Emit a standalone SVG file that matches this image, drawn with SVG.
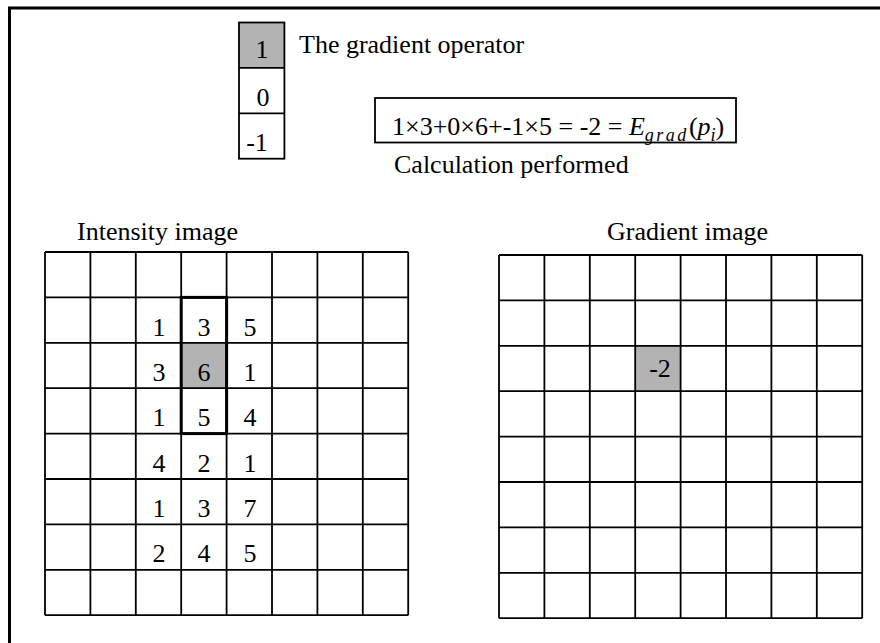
<svg xmlns="http://www.w3.org/2000/svg" width="880" height="643" viewBox="0 0 880 643">
<style>
text{font-family:"Liberation Serif","Times New Roman",serif;fill:#000}
.lbl{font-size:26px}
.num{font-size:26px;text-anchor:middle}
.grid{fill:none;stroke:#000;stroke-width:1.8}
.gray{fill:#b3b3b3}
.it{font-style:italic}
</style>
<rect width="880" height="643" fill="#fff"/>
<path d="M9.5,650 V8 H890" fill="none" stroke="#000" stroke-width="3"/>

<g id="operator">
<rect class="gray" x="239" y="22.5" width="45.4" height="45.4"/>
<rect class="grid" x="239" y="22.5" width="45.4" height="136.2"/>
<path class="grid" d="M239,67.9H284.4M239,113.3H284.4"/>
<text class="num" x="262" y="58">1</text>
<text class="num" x="263" y="106">0</text>
<text class="num" x="257" y="151">-1</text>
<text class="lbl" x="299" y="53">The gradient operator</text>
</g>

<g id="formula">
<rect class="grid" x="375" y="98" width="361" height="44.5"/>
<text class="lbl" x="392" y="135">1×3+0×6+-1×5 = -2 = <tspan class="it">E</tspan><tspan class="it" font-size="18" letter-spacing="2.5" dy="6">grad</tspan><tspan dy="-6">(</tspan><tspan class="it">p</tspan><tspan class="it" font-size="18" dy="6">i</tspan><tspan dy="-6">)</tspan></text>
<text class="lbl" x="394" y="173">Calculation performed</text>
</g>

<g id="intensity-image">
<text class="lbl" x="77" y="240">Intensity image</text>
<rect class="gray" x="181.2" y="342.8" width="45.4" height="45.4"/>
<path class="grid" d="M45,252V615.2M90.4,252V615.2M135.8,252V615.2M181.2,252V615.2M226.6,252V615.2M272,252V615.2M317.4,252V615.2M362.8,252V615.2M408.2,252V615.2M45,252H408.2M45,297.4H408.2M45,342.8H408.2M45,388.2H408.2M45,433.6H408.2M45,479H408.2M45,524.4H408.2M45,569.8H408.2M45,615.2H408.2"/>
<rect x="181.2" y="297.4" width="45.4" height="136.2" fill="none" stroke="#000" stroke-width="3"/>
<text class="num" x="159" y="336">1</text><text class="num" x="204" y="336">3</text><text class="num" x="250" y="336">5</text>
<text class="num" x="159" y="381">3</text><text class="num" x="204" y="381">6</text><text class="num" x="250" y="381">1</text>
<text class="num" x="159" y="426">1</text><text class="num" x="204" y="426">5</text><text class="num" x="250" y="426">4</text>
<text class="num" x="159" y="472">4</text><text class="num" x="204" y="472">2</text><text class="num" x="250" y="472">1</text>
<text class="num" x="159" y="517">1</text><text class="num" x="204" y="517">3</text><text class="num" x="250" y="517">7</text>
<text class="num" x="159" y="562">2</text><text class="num" x="204" y="562">4</text><text class="num" x="250" y="562">5</text>
</g>

<g id="gradient-image">
<text class="lbl" x="607" y="240">Gradient image</text>
<rect class="gray" x="635.2" y="345.8" width="45.4" height="45.4"/>
<path class="grid" d="M499,255V618.2M544.4,255V618.2M589.8,255V618.2M635.2,255V618.2M680.6,255V618.2M726,255V618.2M771.4,255V618.2M816.8,255V618.2M862.2,255V618.2M499,255H862.2M499,300.4H862.2M499,345.8H862.2M499,391.2H862.2M499,436.6H862.2M499,482H862.2M499,527.4H862.2M499,572.8H862.2M499,618.2H862.2"/>
<text class="num" x="660" y="377">-2</text>
</g>

<g id="connectors"/>
</svg>
